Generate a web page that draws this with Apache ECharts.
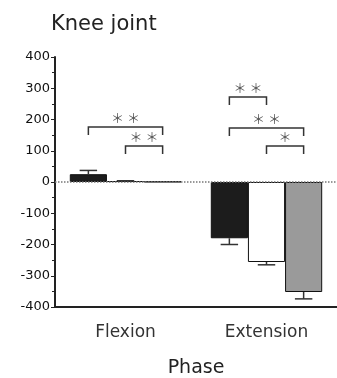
<!DOCTYPE html>
<html><head><meta charset="utf-8">
<script src="https://cdn.jsdelivr.net/npm/echarts@6/dist/echarts.min.js"></script>
<style>html,body{margin:0;padding:0;background:#fff}#c{width:337px;height:378px}</style>
</head><body><div id="c"></div>
<script>
const categories = ['Flexion', 'Extension'];
const group1 = [25, -180];   // black
const group2 = [3, -256];    // white
const group3 = [1, -352];    // grey
const err1 = [12, 20];
const err2 = [1, 9];
const err3 = [0, 22];
const yTicks = [-400, -300, -200, -100, 0, 100, 200, 300, 400];
// brackets: [categoryIndex, fromBar, toBar, height, label]
const brackets = [
  [0, 0, 2, 176, '＊ ＊'],
  [0, 1, 2, 115, '＊ ＊'],
  [1, 0, 1, 272, '＊ ＊'],
  [1, 0, 2, 173, '＊ ＊'],
  [1, 1, 2, 115, '＊']
];

const GAP = 0.21;
const chart = echarts.init(document.getElementById('c'));
const font = 'DejaVu Sans, Arial, sans-serif';

function barX(api, cat, s) {
  const c = api.coord([cat, 0]);
  const bw = api.size([1, 0])[0] * (1 - GAP) / 3;
  return { x: c[0] + (s - 1) * bw, bw: bw };
}

const errData = [];
[[group1, err1], [group2, err2], [group3, err3]].forEach((p, s) => {
  p[0].forEach((v, i) => errData.push([i, s, v, p[1][i]]));
});

const barStyle = (color) => ({ color: color, borderColor: '#111', borderWidth: 1 });

chart.setOption({
  animation: false,
  title: { text: 'Knee joint', left: 46, top: 9, textStyle: { fontFamily: font, fontSize: 21, fontWeight: 'normal', color: '#222' } },
  grid: { left: 55, right: 0, top: 57, bottom: 71, containLabel: false, outerBoundsMode: 'none' },
  xAxis: {
    type: 'category', data: categories,
    name: 'Phase', nameLocation: 'middle', nameGap: 52,
    nameTextStyle: { fontFamily: font, fontSize: 19, color: '#222' },
    axisLine: { onZero: false, lineStyle: { color: '#222', width: 2 } },
    axisTick: { show: false },
    axisLabel: { fontFamily: font, fontSize: 17, color: '#333', margin: 17 }
  },
  yAxis: {
    type: 'value', min: -400, max: 400, interval: 100,
    axisLine: { show: true, lineStyle: { color: '#222', width: 2 } },
    axisTick: { show: true, length: 4, lineStyle: { color: '#222' } },
    minorTick: { show: true, splitNumber: 2, length: 3, lineStyle: { color: '#222' } },
    splitLine: { show: false },
    axisLabel: { fontFamily: font, fontSize: 13, color: '#111', margin: 5,
      formatter: v => yTicks.includes(v) ? String(v) : '' }
  },
  series: [
    { type: 'bar', data: group1, barGap: '0%', barCategoryGap: (GAP * 100) + '%', itemStyle: barStyle('#1c1c1c'),
      markLine: { silent: true, symbol: 'none', label: { show: false },
        lineStyle: { type: 'dotted', color: '#777', width: 1.5 }, data: [{ yAxis: 0 }] } },
    { type: 'bar', data: group2, barGap: '0%', barCategoryGap: (GAP * 100) + '%', itemStyle: barStyle('#ffffff') },
    { type: 'bar', data: group3, barGap: '0%', barCategoryGap: (GAP * 100) + '%', itemStyle: barStyle('#9a9a9a') },
    { type: 'custom', data: errData, z: 5,
      renderItem: (params, api) => {
        const cat = api.value(0), s = api.value(1), v = api.value(2), e = api.value(3);
        if (!e) return null;
        const b = barX(api, cat, s);
        const sign = v >= 0 ? 1 : -1;
        const p0 = api.coord([cat, v]), p1 = api.coord([cat, v + sign * e]);
        const cw = b.bw * 0.47;
        const st = { stroke: '#333', lineWidth: 1.5 };
        return { type: 'group', children: [
          { type: 'line', shape: { x1: b.x, y1: p0[1], x2: b.x, y2: p1[1] }, style: st },
          { type: 'line', shape: { x1: b.x - cw / 2, y1: p1[1], x2: b.x + cw / 2, y2: p1[1] }, style: st }
        ] };
      } },
    { type: 'custom', data: brackets, z: 6,
      renderItem: (params, api) => {
        const d = brackets[params.dataIndex];
        const a = barX(api, d[0], d[1]), b = barX(api, d[0], d[2]);
        const y = api.coord([d[0], d[3]])[1];
        const st = { stroke: '#333', lineWidth: 1.5, fill: null };
        return { type: 'group', children: [
          { type: 'polyline', shape: { points: [[a.x, y + 8], [a.x, y], [b.x, y], [b.x, y + 8]] }, style: st },
          { type: 'text', style: { text: d[4], x: (a.x + b.x) / 2, y: y - 9, align: 'center', verticalAlign: 'middle',
            fontFamily: 'Noto Sans CJK JP', fontSize: 13, fill: '#555' } }
        ] };
      } }
  ]
});
</script></body></html>
